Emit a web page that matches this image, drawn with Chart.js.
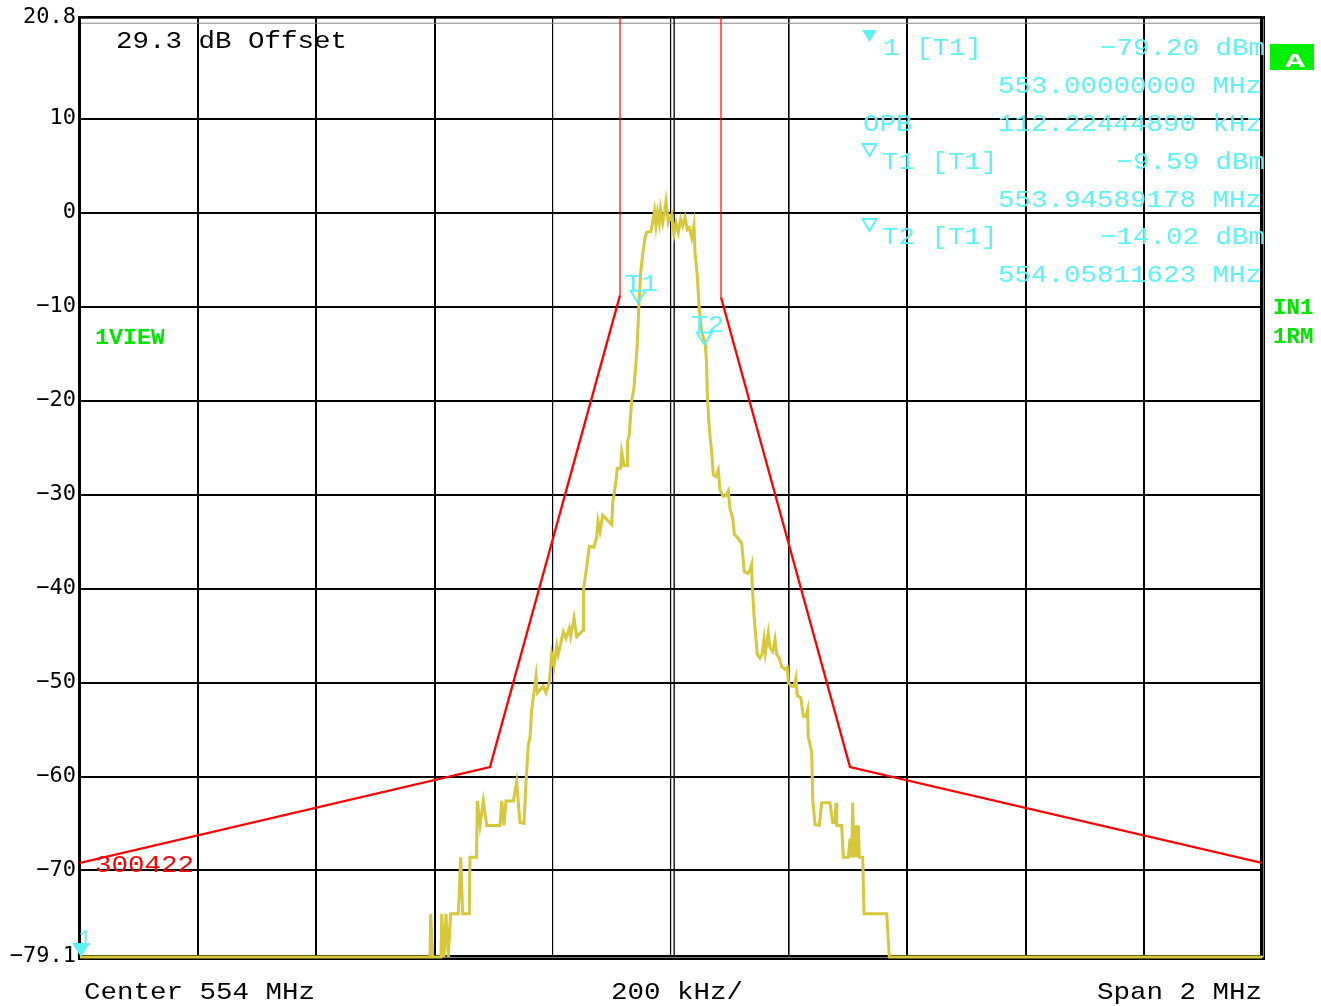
<!DOCTYPE html>
<html>
<head>
<meta charset="utf-8">
<script src="https://cdn.jsdelivr.net/npm/chart.js@4/dist/chart.umd.min.js"></script>
<style>
  html, body { margin: 0; padding: 0; background: #ffffff; }
  #wrap { width: 1321px; height: 1006px; }
</style>
</head>
<body>
<div id="wrap"><canvas id="c" width="1321" height="1006"></canvas></div>
<script>
// Spectrum trace (max hold), frequency in MHz and level in dBm
const freqMHz = [
  553.0000, 553.5922, 553.5934, 553.5968, 553.6108, 553.6120, 553.6159, 553.6193, 553.6232, 553.6272,
  553.6401, 553.6442, 553.6475, 553.6587, 553.6599, 553.6709, 553.6723, 553.6768, 553.6824, 553.6882,
  553.7107, 553.7136, 553.7174, 553.7208, 553.7332, 553.7389, 553.7445, 553.7513, 553.7547, 553.7586,
  553.7614, 553.7643, 553.7716, 553.7738, 553.7839, 553.7885, 553.7941, 553.7981, 553.8020, 553.8066,
  553.8093, 553.8178, 553.8223, 553.8279, 553.8303, 553.8359, 553.8404, 553.8516, 553.8520, 553.8574,
  553.8618, 553.8697, 553.8743, 553.8765, 553.8799, 553.8844, 553.8997, 553.9014, 553.9064, 553.9091,
  553.9149, 553.9166, 553.9205, 553.9260, 553.9264, 553.9294, 553.9335, 553.9374, 553.9408, 553.9428,
  553.9459, 553.9487, 553.9521, 553.9560, 553.9589, 553.9662, 553.9721, 553.9746, 553.9772, 553.9802,
  553.9822, 553.9860, 553.9887, 553.9915, 553.9954, 554.0012, 554.0051, 554.0085, 554.0124, 554.0164,
  554.0198, 554.0237, 554.0276, 554.0310, 554.0350, 554.0389, 554.0406, 554.0445, 554.0479, 554.0520,
  554.0581, 554.0600, 554.0615, 554.0648, 554.0689, 554.0716, 554.0761, 554.0800, 554.0829, 554.0885,
  554.0931, 554.0970, 554.0998, 554.1044, 554.1071, 554.1139, 554.1196, 554.1240, 554.1298, 554.1337,
  554.1366, 554.1371, 554.1404, 554.1460, 554.1506, 554.1540, 554.1574, 554.1596, 554.1646, 554.1675,
  554.1721, 554.1760, 554.1788, 554.1832, 554.1873, 554.1929, 554.1968, 554.1985, 554.2042, 554.2081,
  554.2115, 554.2137, 554.2195, 554.2239, 554.2284, 554.2313, 554.2323, 554.2340, 554.2381, 554.2398,
  554.2437, 554.2509, 554.2550, 554.2690, 554.2736, 554.2775, 554.2792, 554.2804, 554.2888, 554.2915,
  554.3000, 554.3029, 554.3058, 554.3074, 554.3096, 554.3130, 554.3152, 554.3169, 554.3186, 554.3244,
  554.3266, 554.3650, 554.3694, 555.0000
];
const levelDbm = [
  -79.2, -79.2, -74.6, -79.2, -79.2, -74.6, -79.2, -74.6, -79.2, -74.6,
  -74.6, -68.6, -74.6, -74.6, -68.6, -68.6, -62.6, -65.2, -62.6, -65.2,
  -65.2, -62.6, -65.2, -62.6, -62.6, -60.6, -64.9, -65.0, -60.6, -56.6,
  -55.9, -52.9, -49.3, -51.1, -50.4, -51.1, -50.0, -47.0, -48.3, -46.1,
  -47.0, -44.6, -45.3, -44.2, -45.1, -43.1, -45.1, -44.4, -40.1, -37.7,
  -35.5, -35.6, -34.5, -32.8, -33.9, -32.2, -33.2, -30.9, -28.8, -27.2,
  -27.2, -25.5, -26.9, -26.9, -24.4, -23.6, -20.0, -18.6, -15.9, -14.1,
  -9.6, -6.4, -4.4, -2.7, -2.1, -2.0, 0.2, -1.4, 0.0, -1.1,
  0.4, -1.1, -0.2, 1.2, -1.1, -0.2, -2.3, -1.1, -2.1, -0.7,
  -1.4, -0.5, -1.8, -1.6, -2.7, -1.3, -4.2, -6.7, -10.3, -12.7,
  -14.0, -15.8, -19.4, -23.0, -25.5, -27.9, -28.1, -27.4, -29.5, -30.2,
  -30.1, -29.6, -31.5, -32.5, -34.2, -34.7, -35.2, -38.2, -38.4, -38.0,
  -37.4, -39.2, -42.8, -47.0, -47.4, -47.0, -45.4, -46.9, -44.7, -46.3,
  -46.7, -45.4, -47.0, -47.4, -48.3, -48.6, -48.4, -50.0, -50.4, -50.4,
  -49.5, -51.4, -51.6, -53.6, -53.6, -52.9, -55.9, -56.2, -57.5, -62.4,
  -65.1, -65.2, -62.8, -62.8, -64.9, -64.9, -62.8, -65.2, -65.2, -68.6,
  -68.6, -66.6, -68.6, -62.8, -68.6, -65.2, -68.6, -65.2, -68.6, -68.6,
  -74.6, -74.6, -79.2, -79.2
];

// Spectrum emission mask (limit line 300422)
const limitName = '300422';
const limitFreqMHz = [553.0, 553.6937, 553.9137, 553.9137, 554.0846, 554.0846, 554.3029, 555.0];
const limitDbm = [-69.2, -59.0, -8.8, 40.0, 40.0, -9.0, -59.0, -69.2];

// Axis ticks
const yTickValues = [20.8, 10, 0, -10, -20, -30, -40, -50, -60, -70, -79.1];
const xTickValues = [553.0, 553.2, 553.4, 553.6, 553.8, 554.0, 554.2, 554.4, 554.6, 554.8, 555.0];

// Markers and readouts
const markerNames = ['1', 'T1', 'T2'];
const markerFreqMHz = [553.00000000, 553.94589178, 554.05811623];
const markerDbm = [-79.20, -9.59, -14.02];
const opbKHz = 112.22444890;
const refOffsetDb = 29.3;
const centerMHz = 554, spanMHz = 2, divKHz = 200;

const TRACE = '#d6c83a';
const CYAN = '#5ef2f6';
const GREEN = '#00e400';
const MONO = '"Liberation Mono", "DejaVu Sans Mono", monospace';

function minusFix(s) { return s.replace(/-/g, '\u2212'); }

// Monospace text stretched horizontally to a fixed character pitch
function mono(ctx, text, x, y, o) {
  const size = o.size || 24, adv = o.adv || 16.5;
  ctx.save();
  ctx.font = (o.weight || '') + ' ' + size + 'px ' + MONO;
  const nat = ctx.measureText('0').width;
  ctx.translate(x, y);
  ctx.scale(adv / nat, 1);
  ctx.textAlign = o.align || 'left';
  ctx.textBaseline = 'alphabetic';
  ctx.fillStyle = o.color || '#000';
  ctx.fillText(text, 0, 0);
  ctx.restore();
}

function triDown(ctx, cx, tipY, w, h, filled, color) {
  ctx.save();
  ctx.beginPath();
  ctx.moveTo(cx - w / 2, tipY - h);
  ctx.lineTo(cx + w / 2, tipY - h);
  ctx.lineTo(cx, tipY);
  ctx.closePath();
  if (filled) { ctx.fillStyle = color; ctx.fill(); }
  else { ctx.strokeStyle = color; ctx.lineWidth = 2; ctx.stroke(); }
  ctx.restore();
}

const framePlugin = {
  id: 'frame',
  beforeDatasetsDraw(chart) {
    const { ctx, chartArea: a, scales } = chart;
    ctx.save();
    ctx.fillStyle = '#000';
    ctx.fillRect(a.left - 2, a.top - 1, 3, a.bottom - a.top + 5);
    ctx.fillRect(a.left - 2, a.top - 1, a.right - a.left + 5, 2.5);
    ctx.fillRect(a.left - 2, a.bottom + 1.5, a.right - a.left + 5, 2.5);
    ctx.fillRect(a.right - 2, a.top - 1, 1.5, a.bottom - a.top + 5);
    ctx.fillRect(a.right + 1.5, a.top - 1, 1.5, a.bottom - a.top + 5);
    ctx.fillStyle = '#888';
    ctx.fillRect(a.left + 1, a.top + 5.5, a.right - a.left - 3, 1);
    // double centre line
    const xc = scales.x.getPixelForValue(centerMHz);
    ctx.fillStyle = '#000';
    ctx.fillRect(xc + 2.5, a.top, 1.3, a.bottom - a.top);
    ctx.restore();
  }
};

const textPlugin = {
  id: 'texts',
  afterDraw(chart) {
    const { ctx, chartArea: a, scales } = chart;
    const xs = scales.x, ys = scales.y;

    mono(ctx, refOffsetDb.toFixed(1) + ' dB Offset', 116, 48, {});

    // marker readout panel
    const fmtDb = v => minusFix(v.toFixed(2)) + ' dBm';
    const fmtF = v => v.toFixed(8) + ' MHz';
    triDown(ctx, 869.5, 42, 15, 12, true, CYAN);
    mono(ctx, markerNames[0] + ' [T1]', 883, 55, { color: CYAN });
    mono(ctx, fmtDb(markerDbm[0]), 1265, 55, { color: CYAN, align: 'right' });
    mono(ctx, fmtF(markerFreqMHz[0]), 1262, 93, { color: CYAN, align: 'right' });
    mono(ctx, 'OPB', 863, 131, { color: CYAN });
    mono(ctx, opbKHz.toFixed(8) + ' kHz', 1262, 131, { color: CYAN, align: 'right' });
    triDown(ctx, 869.5, 156, 14, 12, false, CYAN);
    mono(ctx, markerNames[1] + ' [T1]', 882, 169, { color: CYAN });
    mono(ctx, fmtDb(markerDbm[1]), 1265, 169, { color: CYAN, align: 'right' });
    mono(ctx, fmtF(markerFreqMHz[1]), 1262, 207, { color: CYAN, align: 'right' });
    triDown(ctx, 869.5, 231, 14, 12, false, CYAN);
    mono(ctx, markerNames[2] + ' [T1]', 882, 244, { color: CYAN });
    mono(ctx, fmtDb(markerDbm[2]), 1265, 244, { color: CYAN, align: 'right' });
    mono(ctx, fmtF(markerFreqMHz[2]), 1262, 282, { color: CYAN, align: 'right' });

    // markers on the trace
    for (let i = 0; i < markerNames.length; i++) {
      const px = xs.getPixelForValue(markerFreqMHz[i]);
      const py = ys.getPixelForValue(markerDbm[i]);
      if (i === 0) {
        triDown(ctx, px + 1, py, 18, 14, true, CYAN);
        mono(ctx, markerNames[i], px - 1, py - 12, { color: CYAN, size: 22, adv: 12 });
      } else {
        triDown(ctx, px - 1, py, 15, 12, false, CYAN);
        mono(ctx, markerNames[i], px - 14, py - 12, { color: CYAN });
      }
    }

    // limit line name
    mono(ctx, limitName, 95, 872, { color: '#ff0000' });

    // side status labels
    ctx.save();
    ctx.beginPath();
    ctx.rect(0, 0, 1314, 1006);
    ctx.clip();
    ctx.fillStyle = '#00f000';
    ctx.fillRect(1270, 44, 44, 26);
    mono(ctx, 'A', 1295, 67, { color: '#ffffff', weight: 'bold', size: 20, adv: 20, align: 'center' });
    mono(ctx, 'IN1', 1273, 314, { color: GREEN, weight: 'bold', size: 22, adv: 13.5 });
    mono(ctx, '1RM', 1273, 343, { color: GREEN, weight: 'bold', size: 22, adv: 13.5 });
    ctx.restore();
    ctx.save();
    ctx.beginPath();
    ctx.rect(0, 0, 164, 1006);
    ctx.clip();
    mono(ctx, '1VIEW', 95, 344, { color: GREEN, weight: 'bold', size: 22, adv: 14 });
    ctx.restore();

    // bottom annotations
    mono(ctx, 'Center ' + centerMHz + ' MHz', 84, 999, {});
    mono(ctx, divKHz + ' kHz/', 611, 999, {});
    mono(ctx, 'Span ' + spanMHz + ' MHz', 1262, 999, { align: 'right' });
  }
};

const trace = freqMHz.map((f, i) => ({ x: f, y: levelDbm[i] }));
const limit = limitFreqMHz.map((f, i) => ({ x: f, y: limitDbm[i] }));

new Chart(document.getElementById('c'), {
  type: 'line',
  data: {
    datasets: [
      {
        label: 'Trace 1',
        data: trace,
        borderColor: TRACE,
        borderWidth: 3,
        pointRadius: 0,
        tension: 0,
        clip: 4,
        order: 1
      },
      {
        label: limitName,
        data: limit,
        borderColor: '#ff0000',
        borderWidth: 2.3,
        pointRadius: 0,
        tension: 0,
        order: 2,
        segment: {
          borderWidth: c => (c.p0DataIndex === 2 || c.p0DataIndex === 4) ? 1.2 : 2.3
        }
      }
    ]
  },
  options: {
    responsive: false,
    maintainAspectRatio: false,
    animation: false,
    layout: { padding: { top: 14, right: 59, left: 0, bottom: 0 } },
    plugins: { legend: { display: false }, tooltip: { enabled: false } },
    scales: {
      x: {
        type: 'linear',
        min: 553, max: 555,
        afterBuildTicks: s => { s.ticks = xTickValues.map(v => ({ value: v })); },
        afterFit: s => { s.height = 50; },
        ticks: { display: false },
        border: { display: false },
        grid: {
          color: '#000',
          drawTicks: false,
          lineWidth: c => (c.index === 4 || c.index === 5) ? 1.2 : (c.index === 6 ? 1.6 : 2)
        }
      },
      y: {
        type: 'linear',
        min: -79.1, max: 20.8,
        afterBuildTicks: s => { s.ticks = yTickValues.map(v => ({ value: v })); },
        afterFit: s => { s.width = 80; },
        border: { display: false },
        grid: { color: '#000', lineWidth: 2, drawTicks: false },
        ticks: {
          padding: 4,
          color: '#000',
          font: { family: '"DejaVu Sans Mono", monospace', size: 22 },
          callback: v => minusFix(String(v))
        }
      }
    }
  },
  plugins: [framePlugin, textPlugin]
});
</script>
</body>
</html>
